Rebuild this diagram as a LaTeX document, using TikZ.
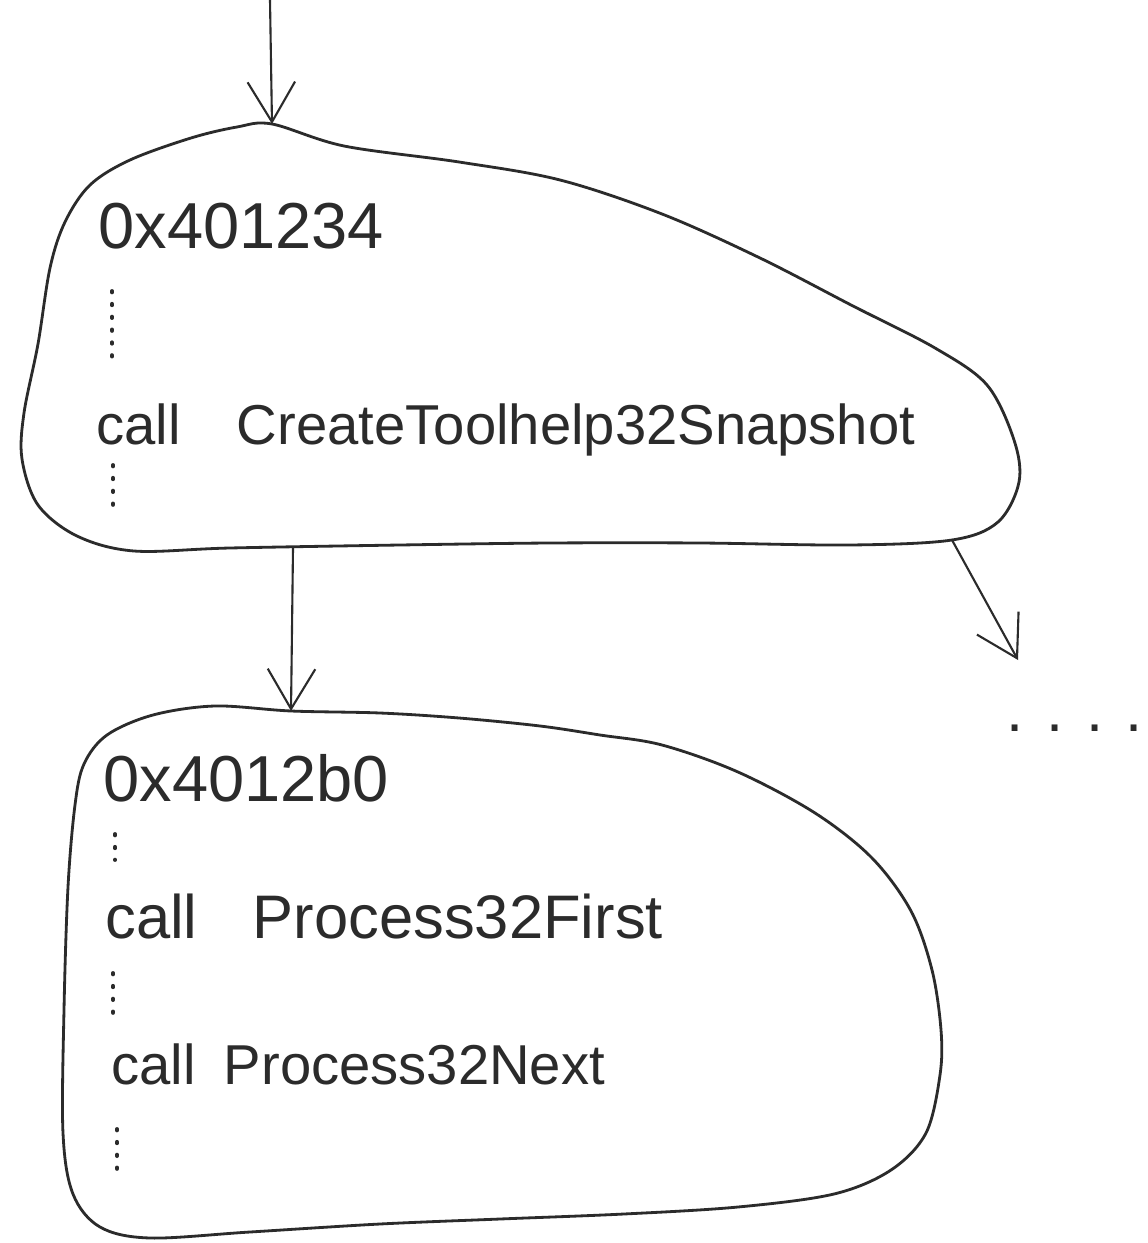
\documentclass[tikz,border=0pt]{standalone}
\usepackage{fontspec}
\setmainfont{Liberation Sans}
\usepackage{tikz}
\usetikzlibrary{arrows.meta}

\definecolor{ink}{HTML}{2B2B2B}
\newcommand{\codesize}[1]{\fontsize{#1}{#1}\selectfont}

\begin{document}
\begin{tikzpicture}[x=0.02cm,y=-0.02cm,
    flow/.style={draw=ink,line width=1.2pt,-{Straight Barb[length=0.8cm,width=0.95cm]}},
    outline/.style={draw=ink,line width=1.6pt},
    code/.style={anchor=base west,text=ink,inner sep=0pt,font=\codesize{35}},
    elided/.style={draw=ink,line width=2.2pt,line cap=round,dash pattern=on 0.8pt off 6.5pt}]
    \fill[white] (0,0) rectangle (1147,1243);
    \useasboundingbox (0,0) rectangle (1147,1243);

    % blocks
    \draw[outline] plot[smooth cycle,tension=0.55] coordinates {
        (272,124) (344,146) (459,162) (560,180) (662,214) (760,258) (853,306)
        (935,348) (987,385) (1014,440) (1019,482) (998,522) (952,540) (850,545)
        (700,543) (550,543) (400,545) (230,548) (134,551) (77,536) (38,505)
        (22,459) (24,413) (38,344) (50,268) (65,222) (90,185) (130,160)
        (191,138) (237,127)};
    \draw[outline] plot[smooth cycle,tension=0.55] coordinates {
        (291,711) (380,713) (459,718) (540,726) (600,735) (662,745) (738,772)
        (815,813) (872,858) (911,911) (932,970) (941,1030) (940,1075) (926,1133)
        (891,1170) (834,1194) (738,1207) (624,1214) (500,1219) (380,1224)
        (250,1232) (150,1238) (100,1227) (73,1194) (63,1133) (64,1010) (68,887)
        (75,805) (84,764) (107,735) (153,715) (215,706)};
    \coordinate (entry) at (270,0);
    \coordinate (b1top) at (272,124);
    \coordinate (b1bot) at (293,548);
    \coordinate (b1corner) at (952,540);
    \coordinate (b2top) at (291,711);
    \coordinate (exit) at (1018,660);

    % nodes
    \node[code,font=\codesize{37}] (addr1) at (98,249) {0x401234};
    \node[code,font=\codesize{32}] (call1) at (96,444) {call\hspace{1em}CreateToolhelp32Snapshot};
    \node[code,font=\codesize{37}] (addr2) at (103,801) {0x4012b0};
    \node[code] (call2) at (105,938) {call\hspace{0.9em}Process32First};
    \node[code,font=\codesize{32}] (call3) at (111,1084) {call\hspace{0.5em}Process32Next};
    \node[code] (more) at (1006,731) {. . . .};

    % skipped lines
    \draw[elided] (112,291) -- (112,360);
    \draw[elided] (113,465) -- (113,505);
    \draw[elided] (115,834) -- (115,860);
    \draw[elided] (113,973) -- (113,1022);
    \draw[elided] (117,1129) -- (117,1170);

    % paths
    \draw[flow] (entry) -- (b1top);
    \draw[flow] (b1bot) -- (b2top);
    \draw[flow] (b1corner) -- (exit);
\end{tikzpicture}
\end{document}
